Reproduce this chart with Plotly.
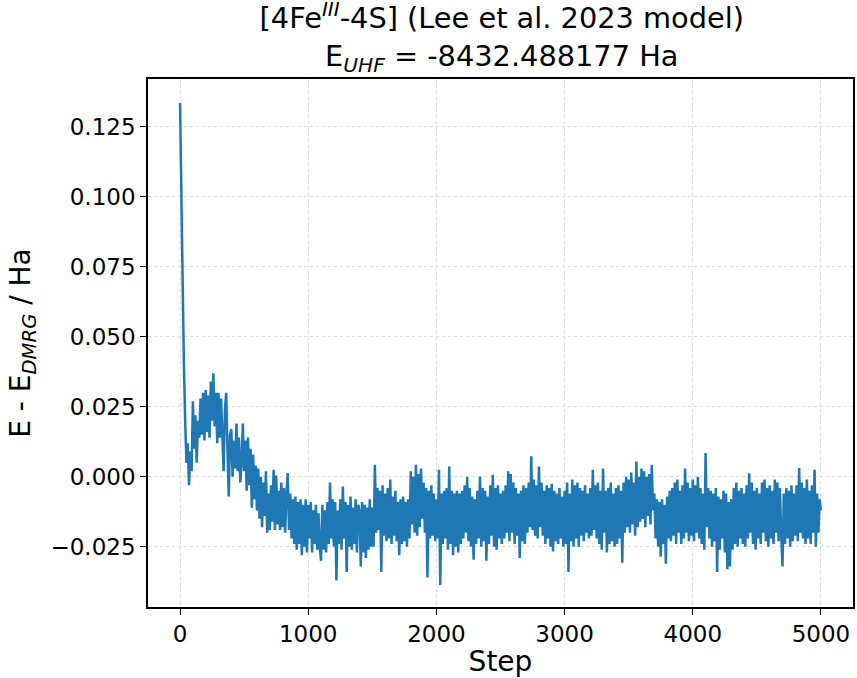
import plotly.graph_objects as go

# Initial drop (every 10 steps)
head_steps = [0, 10, 20, 30, 40, 50, 60, 70, 80, 90]
head_energy = [0.1335, 0.098, 0.068, 0.040, 0.020, 0.005, 0.012, -0.003, 0.009, 0.002]

# Remaining trajectory, every 10 steps from step 100 (one row = 100 steps)
body_start = 100
body_stride = 10
body_energy = [
    0.027, 0.010, 0.022, 0.005, 0.020, 0.014, 0.028, 0.015, 0.030, 0.013,
    0.031, 0.016, 0.029, 0.014, 0.034, 0.020, 0.037, 0.018, 0.030, 0.012,
    0.030, 0.014, 0.028, 0.012, 0.002, 0.024, 0.030, 0.010, -0.007, 0.015,
    0.017, 0.000, 0.013, 0.003, 0.019, 0.002, 0.014, -0.002, 0.005, 0.019,
    0.002, 0.013, -0.005, 0.014, -0.003, 0.010, -0.011, 0.008, -0.008, 0.004,
    -0.012, 0.003, -0.015, 0.000, -0.018, -0.002, -0.014, 0.002, -0.020, -0.006,
    -0.019, -0.003, -0.016, 0.0025, -0.019, 0.0005, -0.017, -0.005, -0.019, -0.002,
    -0.018, -0.004, -0.020, -0.006, 0.0013, -0.019, -0.006, -0.022, -0.008, -0.024,
    -0.007, -0.026, -0.009, -0.024, -0.008, -0.028, -0.010, -0.025, -0.008, -0.027,
    -0.010, -0.022, -0.009, -0.027, -0.012, -0.024, -0.010, -0.026, -0.013, -0.025,
    -0.030, -0.010, -0.026, -0.012, -0.027, -0.009, -0.024, -0.002, -0.022, -0.008,
    -0.025, -0.009, -0.037, -0.012, -0.024, -0.008, -0.026, -0.0035, -0.022, -0.009,
    -0.034, -0.010, -0.025, -0.007, -0.026, -0.011, -0.024, -0.008, -0.027, -0.010,
    -0.012, -0.032, -0.009, -0.027, -0.010, -0.029, -0.011, -0.026, -0.008, -0.025,
    -0.011, -0.025, 0.0043, -0.020, -0.004, -0.019, -0.005, -0.034, -0.003, -0.021,
    -0.006, -0.023, -0.004, -0.022, -0.001, -0.024, -0.007, -0.021, -0.005, -0.023,
    -0.009, -0.028, -0.008, -0.024, -0.007, -0.023, -0.009, -0.025, -0.008, -0.022,
    0.002, -0.017, 0.000, -0.020, 0.0043, -0.021, 0.001, -0.018, 0.003, -0.015,
    -0.002, -0.020, -0.004, -0.036, -0.005, -0.022, -0.003, -0.021, -0.006, -0.023,
    -0.008, -0.022, 0.0025, -0.0386, -0.006, -0.024, -0.005, -0.022, -0.004, -0.026,
    0.0037, -0.024, -0.005, -0.028, -0.006, -0.025, -0.005, -0.027, -0.006, -0.024,
    -0.005, -0.022, -0.003, -0.020, 0.000, -0.023, -0.004, -0.025, -0.007, -0.0296,
    -0.008, -0.024, -0.005, -0.022, 0.000, -0.025, -0.004, -0.023, -0.005, -0.030,
    -0.007, -0.024, -0.003, -0.021, 0.0007, -0.025, -0.004, -0.026, -0.003, -0.022,
    -0.006, -0.024, -0.005, -0.022, -0.003, -0.020, 0.002, -0.023, 0.001, -0.020,
    -0.002, -0.024, -0.004, -0.021, -0.006, -0.029, -0.005, -0.023, -0.003, -0.024,
    -0.004, -0.020, -0.002, -0.018, 0.0073, -0.019, -0.001, -0.021, -0.003, -0.022,
    0.0037, -0.018, -0.002, -0.021, -0.005, -0.024, -0.003, -0.022, -0.004, -0.025,
    -0.0025, -0.0267, -0.005, -0.023, -0.006, -0.024, -0.004, -0.022, -0.007, -0.025,
    -0.005, -0.024, -0.002, -0.034, -0.006, -0.023, -0.001, -0.025, -0.003, -0.022,
    -0.002, -0.025, -0.004, -0.021, -0.005, -0.023, -0.003, -0.020, -0.006, -0.022,
    -0.004, -0.021, 0.0025, -0.019, -0.003, -0.022, -0.002, -0.024, -0.005, -0.026,
    0.003, -0.020, -0.005, -0.027, -0.004, -0.024, -0.002, -0.023, -0.006, -0.025,
    -0.004, -0.024, -0.003, -0.022, -0.005, -0.0307, -0.002, -0.020, 0.000, -0.018,
    -0.001, -0.020, 0.0015, -0.017, -0.002, -0.021, 0.0055, -0.018, 0.000, -0.016,
    0.003, -0.015, 0.002, -0.018, 0.000, -0.014, 0.001, -0.017, 0.0043, -0.012,
    -0.006, -0.022, -0.008, -0.025, -0.009, -0.0285, -0.008, -0.024, -0.010, -0.031,
    -0.007, -0.022, -0.005, -0.023, -0.004, -0.021, -0.002, -0.024, -0.001, -0.020,
    -0.005, -0.024, -0.003, -0.022, 0.003, -0.020, -0.002, -0.023, -0.004, -0.021,
    -0.001, -0.023, -0.003, -0.020, 0.000, -0.022, -0.004, -0.024, -0.006, -0.026,
    0.0085, -0.018, -0.004, -0.022, -0.005, -0.025, -0.006, -0.023, -0.004, -0.034,
    -0.007, -0.026, -0.008, -0.022, -0.005, -0.027, -0.006, -0.033, -0.009, -0.032,
    -0.008, -0.026, -0.004, -0.024, -0.002, -0.025, -0.005, -0.022, -0.004, -0.024,
    -0.006, -0.025, -0.003, -0.022, 0.0013, -0.020, -0.002, -0.024, -0.005, -0.026,
    -0.004, -0.022, -0.006, -0.024, -0.002, -0.020, -0.001, -0.023, -0.004, -0.025,
    -0.003, -0.022, -0.005, -0.024, -0.001, -0.020, -0.002, -0.023, -0.004, -0.021,
    -0.032, -0.006, -0.024, -0.004, -0.022, -0.005, -0.025, -0.003, -0.023, -0.006,
    -0.021, -0.003, -0.023, 0.0031, -0.020, -0.002, -0.022, -0.004, -0.024, -0.001,
    -0.022, -0.005, -0.024, -0.003, -0.020, 0.0025, -0.025, -0.006, -0.020, -0.008,
]
tail_step = 4999
tail_energy = -0.012

steps = head_steps + [body_start + body_stride * i for i in range(len(body_energy))] + [tail_step]
energy = head_energy + body_energy + [tail_energy]

x_ticks = [0, 1000, 2000, 3000, 4000, 5000]
y_ticks = [-0.025, 0.000, 0.025, 0.050, 0.075, 0.100, 0.125]

FONT = "DejaVu Sans"

fig = go.Figure()
fig.add_trace(go.Scatter(
    x=steps, y=energy, mode="lines",
    line=dict(color="#1f77b4", width=2.5),
    showlegend=False, hoverinfo="skip",
))

axis_common = dict(
    showline=True, linecolor="black", linewidth=1.6, mirror=True,
    ticks="outside", ticklen=6, tickwidth=1.2, tickcolor="black",
    showgrid=True, gridcolor="#dcdcdc", gridwidth=0.8, griddash="dot",
    zeroline=False,
    tickfont=dict(family=FONT, size=23, color="black"),
)

fig.update_layout(
    width=857, height=678,
    margin=dict(l=148, r=2, t=79, b=71),
    paper_bgcolor="white", plot_bgcolor="white",
    font=dict(family=FONT, color="black"),
    title=dict(
        text="[4Fe<sup><i>III</i></sup>-4S] (Lee et al. 2023 model)<br>E<sub><i>UHF</i></sub> = -8432.488177 Ha",
        x=0.5855, xanchor="center", xref="container",
        y=0.9585, yref="container", yanchor="top",
        font=dict(family=FONT, size=28.8, color="black"),
    ),
    xaxis=dict(
        range=[-250, 5250], tickvals=x_ticks,
        title=dict(text="Step", font=dict(family=FONT, size=28), standoff=8),
        **axis_common,
    ),
    yaxis=dict(
        range=[-0.0465, 0.1421], tickvals=y_ticks, tickformat=".3f",
        title=dict(text="E - E<sub><i>DMRG</i></sub> / Ha", font=dict(family=FONT, size=28), standoff=12),
        **axis_common,
    ),
)

fig.write_html("out.html")
